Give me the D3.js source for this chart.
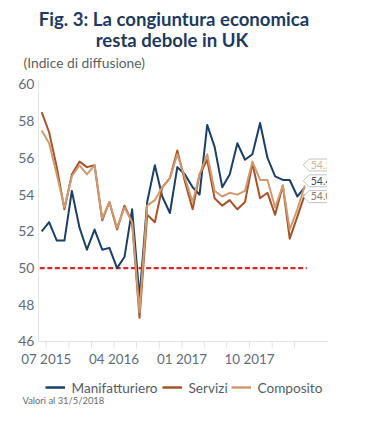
<!DOCTYPE html>
<html><head><meta charset="utf-8">
<script src="https://cdn.jsdelivr.net/npm/d3@7"></script>
<style>
html,body{margin:0;padding:0;background:#fff;}
svg{display:block;}
</style></head>
<body>
<svg id="chart" width="365" height="429"></svg>
<script>
const months = ["2015-06","2015-07","2015-08","2015-09","2015-10","2015-11","2015-12",
"2016-01","2016-02","2016-03","2016-04","2016-05","2016-06","2016-07","2016-08","2016-09","2016-10","2016-11","2016-12",
"2017-01","2017-02","2017-03","2017-04","2017-05","2017-06","2017-07","2017-08","2017-09","2017-10","2017-11","2017-12",
"2018-01","2018-02","2018-03","2018-04","2018-05"];
const manifatturiero = [52.0,52.5,51.5,51.5,54.2,52.2,51.0,52.1,51.0,51.1,50.0,50.6,53.2,48.4,53.6,55.6,53.9,53.0,55.5,55.1,54.4,54.0,57.8,56.6,54.4,55.1,56.8,55.9,56.2,57.9,56.0,55.0,54.8,54.8,53.9,54.4];
const servizi = [58.5,57.4,55.5,53.2,55.1,55.8,55.5,55.6,52.6,53.6,52.1,53.4,52.5,47.3,52.9,52.5,54.4,54.9,56.4,54.7,53.2,55.1,55.9,53.8,53.4,53.7,53.2,53.6,55.7,53.8,54.1,52.9,54.5,51.6,52.8,54.0];
const composito = [57.5,56.8,55.1,53.3,55.0,55.6,55.1,55.6,52.7,53.6,52.2,53.3,52.5,47.6,53.4,53.7,54.4,54.9,56.2,54.9,53.6,55.1,56.2,54.2,53.9,54.1,54.0,54.2,55.8,54.8,54.8,53.3,54.5,52.1,53.2,54.5];
const seriesNames = ["Manifatturiero","Servizi","Composito"];
const yTicks = [46,48,50,52,54,56,58,60];
const xTickMonths = ["2015-07","2015-10","2016-01","2016-04","2016-07","2016-10","2017-01","2017-04","2017-07","2017-10","2018-01","2018-04"];
const xTickLabels = ["07 2015","04 2016","01 2017","10 2017"];
const soglia = [50];

const colors = {"Manifatturiero":"#1c3f66","Servizi":"#a4532a","Composito":"#d09a70"};
const labelText = {"Manifatturiero":"#34506f","Servizi":"#8c7b6e","Composito":"#d8b08e"};
const FONT = "Lato, 'Open Sans', sans-serif";

const svg = d3.select("#chart");
const parseM = d3.timeParse("%Y-%m");
const mid = s => { const d = parseM(s); d.setDate(15); return d; };
const dates = months.map(mid);

const x = d3.scaleTime().domain([new Date(2015,5,2), new Date(2018,7,17)]).range([38.5, 328]);
const y = d3.scaleLinear().domain([46,60]).range([341.5, 84.5]);

// Title
svg.append("text").attr("x",174).attr("y",26).attr("text-anchor","middle")
  .attr("font-family",FONT).attr("font-weight","bold").attr("font-size",18.6).attr("fill","#1f3a5c")
  .text("Fig. 3: La congiuntura economica");
svg.append("text").attr("x",172).attr("y",47).attr("text-anchor","middle")
  .attr("font-family",FONT).attr("font-weight","bold").attr("font-size",18.6).attr("fill","#1f3a5c")
  .text("resta debole in UK");
svg.append("text").attr("x",23.5).attr("y",68)
  .attr("font-family",FONT).attr("font-size",13.8).attr("fill","#5a5f66")
  .text("(Indice di diffusione)");

// Y axis
const yAxis = d3.axisLeft(y).tickValues(yTicks).tickSize(0).tickPadding(4).tickFormat(d3.format("d"));
const gy = svg.append("g").attr("transform","translate(38.5,0)").call(yAxis);
gy.select(".domain").attr("stroke","#e4e6e8").attr("d","M0,80V341.5");
gy.selectAll("text").attr("font-family",FONT).attr("font-size",14).attr("fill","#5f6b78");

// X axis
const tickDates = xTickMonths.map(s => parseM(s));
const fmt = d3.timeFormat("%m %Y");
const xAxis = d3.axisBottom(x).tickValues(tickDates).tickSize(7).tickPadding(6)
  .tickFormat(d => xTickLabels.includes(fmt(d)) ? fmt(d) : "");
const gx = svg.append("g").attr("transform","translate(0,341.5)").call(xAxis);
gx.select(".domain").attr("stroke","#dfe2e5").attr("d","M38.5,0H328");
gx.selectAll(".tick line").attr("stroke","#dfe2e5");
gx.selectAll("text").attr("font-family",FONT).attr("font-size",13.4).attr("fill","#5f6b78");

// Threshold
svg.append("g").selectAll("line").data(soglia).join("line")
  .attr("x1", x(dates[0]) - 2).attr("x2", x(dates[dates.length-1]) + 2)
  .attr("y1", d => y(d)).attr("y2", d => y(d))
  .attr("stroke","#d9262b").attr("stroke-width",2.2).attr("stroke-dasharray","5,2.6");

// Lines
const seriesData = {"Manifatturiero":manifatturiero,"Servizi":servizi,"Composito":composito};
const line = d3.line().x((d,i)=>x(dates[i])).y(d=>y(d));
seriesNames.forEach(n => {
  svg.append("path").datum(seriesData[n]).attr("d",line)
    .attr("fill","none").attr("stroke",colors[n]).attr("stroke-width",2).attr("stroke-linejoin","round");
});

// End labels (clipped at right)
svg.append("defs").append("clipPath").attr("id","clipR").append("rect")
  .attr("x",0).attr("y",0).attr("width",327).attr("height",429);
const lastX = x(dates[dates.length-1]);
let labs = seriesNames.map(n => ({n, v: seriesData[n][seriesData[n].length-1]}));
labs.forEach(l => l.y = y(l.v));
labs.sort((a,b)=>a.y-b.y);
const gap = 15.8;
const midIdx = Math.floor(labs.length/2);
labs.forEach((l,i)=> l.ly = labs[midIdx].y - 6.5 + (i-midIdx)*gap);
const gl = svg.append("g").attr("clip-path","url(#clipR)");
labs.forEach(l => {
  const h = 6, tx = lastX - 1.5;
  gl.append("path").attr("d",`M${tx},${l.ly}L${tx+6},${l.ly-h}H${tx+40}V${l.ly+h}H${tx+6}Z`)
    .attr("fill","#fff").attr("stroke","#b9bcc0").attr("stroke-width",0.9);
  gl.append("text").attr("x",tx+7.5).attr("y",l.ly+3.8)
    .attr("font-family",FONT).attr("font-size",10.5).attr("fill",labelText[l.n])
    .text(l.v.toFixed(1));
});

// Legend
const legX = [45.5, 162.5, 231.5];
const lg = svg.append("g");
seriesNames.forEach((n,i) => {
  lg.append("line").attr("x1",legX[i]).attr("x2",legX[i]+19.5).attr("y1",387.5).attr("y2",387.5)
    .attr("stroke",colors[n]).attr("stroke-width",2.5);
  lg.append("text").attr("x",legX[i]+26).attr("y",392.5)
    .attr("font-family",FONT).attr("font-size",13.6).attr("fill","#555c66").text(n);
});
svg.append("text").attr("x",22.5).attr("y",404)
  .attr("font-family",FONT).attr("font-size",9.4).attr("fill","#666b72").text("Valori al 31/5/2018");
</script>
</body></html>
